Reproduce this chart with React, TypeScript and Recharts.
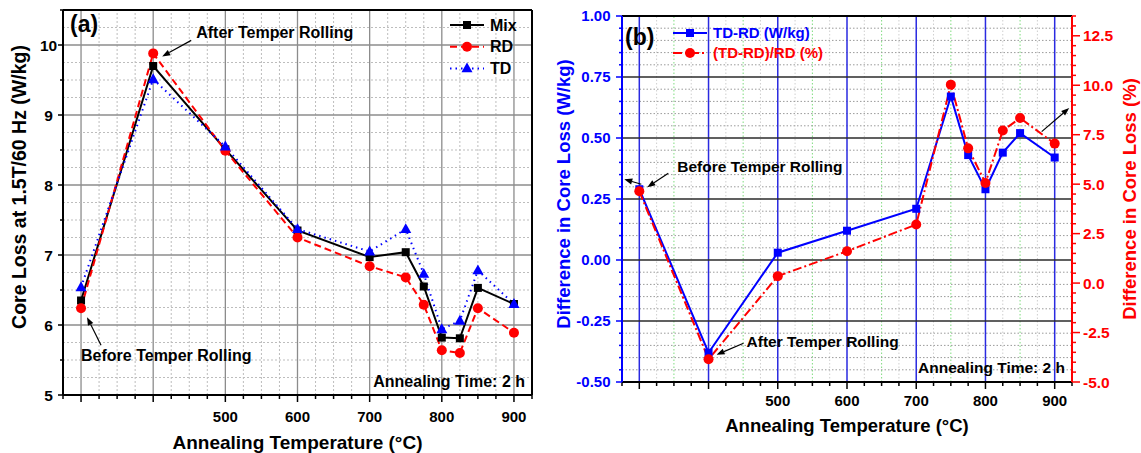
import React from "react";
import { LineChart, Line, XAxis, YAxis, ReferenceLine, ReferenceDot, Legend, Label } from "recharts";

const FONT = "'Liberation Sans', Arial, Helvetica, sans-serif";
const BLUE = "#0000ff";
const RED = "#ff0000";

// annealing temperature (°C); 300 = sheet before temper rolling, 400 = right after it
const temps = [300, 400, 500, 600, 700, 750, 775, 800, 825, 850, 900];

// (a) core loss at 1.5 T / 60 Hz (W/kg)
const mixLoss = [6.35, 9.7, 8.51, 7.35, 6.97, 7.04, 6.55, 5.82, 5.81, 6.53, 6.3];
const rdLoss = [6.24, 9.88, 8.49, 7.25, 6.84, 6.68, 6.29, 5.64, 5.6, 6.24, 5.89];
const tdLoss = [6.54, 9.51, 8.55, 7.37, 7.05, 7.37, 6.73, 5.94, 6.06, 6.78, 6.3];

// (b) TD - RD difference, absolute (W/kg) and relative (%)
const diffWkg = [0.29, -0.38, 0.03, 0.12, 0.21, 0.67, 0.43, 0.29, 0.44, 0.52, 0.42];
const diffPct = [4.64, -3.85, 0.35, 1.61, 2.96, 10.03, 6.81, 5.06, 7.71, 8.34, 7.05];

// axis ticks
const tempLabels = [500, 600, 700, 800, 900];
const tempMajor = [300, 400, 500, 600, 700, 800, 900];
const lossLabels = [5, 6, 7, 8, 9, 10];
const wkgLabels = [-0.5, -0.25, 0, 0.25, 0.5, 0.75, 1.0];
const pctLabels = [-5, -2.5, 0, 2.5, 5, 7.5, 10, 12.5];

const range = (from: number, to: number, step: number) => {
  const out: number[] = [];
  for (let v = from; v <= to + step / 1000; v += step) out.push(Math.round(v * 1000) / 1000);
  return out;
};
const near = (list: number[], v: number) => list.some((w) => Math.abs(w - v) < 1e-6);

const tempMinor = range(275, 925, 25);
const lossTicks = range(5, 10.5, 0.5);
const wkgTicks = range(-0.5, 1.0, 0.05);
const pctTicks = range(-5, 13.5, 0.5);

const rowsA = temps.map((t, i) => ({ t, mix: mixLoss[i], rd: rdLoss[i], td: tdLoss[i] }));
const rowsB = temps.map((t, i) => ({ t, dW: diffWkg[i], dP: diffPct[i] }));

type MarkerKind = "square" | "circle" | "triangle";

const lossSeries = [
  { key: "mix", name: "Mix", color: "#000000", dash: undefined, marker: "square" as MarkerKind, size: 8 },
  { key: "rd", name: "RD", color: RED, dash: "7 4", marker: "circle" as MarkerKind, size: 10 },
  { key: "td", name: "TD", color: BLUE, dash: "1.5 4", marker: "triangle" as MarkerKind, size: 11 },
];

const diffSeries = [
  { key: "dW", name: "TD-RD (W/kg)", axis: "left", color: BLUE, dash: undefined, marker: "square" as MarkerKind, size: 8 },
  { key: "dP", name: "(TD-RD)/RD (%)", axis: "right", color: RED, dash: "9 3 2 3", marker: "circle" as MarkerKind, size: 10 },
];

const bold = (size: number) => ({ fontFamily: FONT, fontWeight: 700, fontSize: size });

function Marker({ kind, cx, cy, color, size }: { kind: MarkerKind; cx: number; cy: number; color: string; size: number }) {
  if (kind === "square") return <rect x={cx - size / 2} y={cy - size / 2} width={size} height={size} fill={color} />;
  if (kind === "circle") return <circle cx={cx} cy={cy} r={size / 2} fill={color} />;
  const h = size * 0.9;
  return (
    <polygon
      points={`${cx},${cy - h * 0.6} ${cx + size / 2},${cy + h * 0.4} ${cx - size / 2},${cy + h * 0.4}`}
      fill={color}
    />
  );
}

// ---- tick renderers (tickSize 0, so x/y sit on the axis line) ----
function TempTick(props: any) {
  const { x, y, payload, labelDy } = props;
  const v = payload.value;
  const major = near(tempMajor, v);
  return (
    <g>
      <line x1={x} x2={x} y1={y} y2={y + (major ? 7 : 4)} stroke="#000" strokeWidth={1.5} />
      {near(tempLabels, v) && (
        <text x={x} y={y + labelDy} textAnchor="middle" fill="#000" style={bold(15)}>
          {v}
        </text>
      )}
    </g>
  );
}

function LossTick(props: any) {
  const { x, y, payload } = props;
  const v = payload.value;
  const major = near(lossLabels, v);
  return (
    <g>
      <line x1={x - (major ? 5 : 3)} x2={x} y1={y} y2={y} stroke="#000" strokeWidth={1.5} />
      {major && (
        <text x={x - 14.5} y={y} dy="0.36em" textAnchor="middle" fill="#000" style={bold(15.5)}>
          {v}
        </text>
      )}
    </g>
  );
}

function WkgTick(props: any) {
  const { x, y, payload } = props;
  const v = payload.value;
  const major = near(wkgLabels, v);
  return (
    <g>
      <line x1={x - (major ? 6 : 3)} x2={x} y1={y} y2={y} stroke={BLUE} strokeWidth={1.5} />
      {major && (
        <text x={x - 11.5} y={y} dy="0.36em" textAnchor="end" fill={BLUE} style={bold(15)}>
          {v.toFixed(2)}
        </text>
      )}
    </g>
  );
}

function PctTick(props: any) {
  const { x, y, payload } = props;
  const v = payload.value;
  const major = near(pctLabels, v);
  return (
    <g>
      <line x1={x} x2={x + (major ? 8 : 4)} y1={y} y2={y} stroke={RED} strokeWidth={1.5} />
      {major && (
        <text x={x + 11} y={y} dy="0.36em" textAnchor="start" fill={RED} style={bold(15.5)}>
          {v.toFixed(1)}
        </text>
      )}
    </g>
  );
}

// ---- annotations, placed relative to the point they are attached to ----
function Arrow({ x1, y1, x2, y2 }: { x1: number; y1: number; x2: number; y2: number }) {
  const a = Math.atan2(y2 - y1, x2 - x1);
  const c = Math.cos(a);
  const s = Math.sin(a);
  const bx = x2 - 8 * c;
  const by = y2 - 8 * s;
  return (
    <g>
      <line x1={x1} y1={y1} x2={bx} y2={by} stroke="#000" strokeWidth={1.2} />
      <polygon points={`${x2},${y2} ${bx + 3 * s},${by - 3 * c} ${bx - 3 * s},${by + 3 * c}`} fill="#000" />
    </g>
  );
}

type CalloutProps = {
  cx: number;
  cy: number;
  arrows?: [number, number, number, number][];
  text?: string;
  at?: [number, number];
  anchor?: "start" | "end";
  size?: number;
};

function Callout({ cx, cy, arrows = [], text, at = [0, 0], anchor = "start", size = 16 }: CalloutProps) {
  return (
    <g>
      {arrows.map(([fx, fy, tx, ty], i) => (
        <Arrow key={i} x1={cx + fx} y1={cy + fy} x2={cx + tx} y2={cy + ty} />
      ))}
      {text && (
        <text x={cx + at[0]} y={cy + at[1]} textAnchor={anchor} fill="#000" style={bold(size)}>
          {text}
        </text>
      )}
    </g>
  );
}

// ---- legends ----
function SeriesLegend({ items, rowGap, textSize, colored }: any) {
  return (
    <svg width={160} height={rowGap * items.length + 4} style={{ display: "block" }}>
      {items.map((s: any, i: number) => {
        const y = 11 + i * rowGap;
        return (
          <g key={s.key}>
            <line x1={3} x2={37} y1={y} y2={y} stroke={s.color} strokeWidth={2} strokeDasharray={s.dash} />
            <Marker kind={s.marker} cx={20} cy={y} color={s.color} size={s.size} />
            <text x={43} y={y} dy="0.36em" fill={colored ? s.color : "#000"} style={bold(textSize)}>
              {s.name}
            </text>
          </g>
        );
      })}
    </svg>
  );
}

const dotFor = (s: { key: string; marker: MarkerKind; color: string; size: number }) => (p: any) =>
  <Marker key={`${s.key}-${p.index}`} kind={s.marker} cx={p.cx} cy={p.cy} color={s.color} size={s.size} />;

function CoreLossChart() {
  return (
    <LineChart width={560} height={453} data={rowsA} margin={{ top: 10, right: 28, bottom: 0, left: 0 }}>
      {/* grid */}
      {tempMinor
        .filter((v) => !near(tempMajor, v) && v > 275 && v < 925)
        .map((v) => (
          <ReferenceLine key={`gx${v}`} x={v} stroke="#bdbdbd" strokeDasharray="2 2" zIndex={-100} />
        ))}
      {tempMajor.map((v) => (
        <ReferenceLine key={`GX${v}`} x={v} stroke="#8c8c8c" strokeWidth={1.3} zIndex={-100} />
      ))}
      {range(5.25, 10.25, 0.25)
        .filter((v) => !Number.isInteger(v))
        .map((v) => (
          <ReferenceLine key={`gy${v}`} y={v} stroke="#bdbdbd" strokeDasharray="2 2" zIndex={-100} />
        ))}
      {lossLabels
        .filter((v) => v > 5)
        .map((v) => (
          <ReferenceLine key={`GY${v}`} y={v} stroke="#8c8c8c" strokeWidth={1.3} zIndex={-100} />
        ))}
      <ReferenceLine y={10.5} stroke="#000" strokeWidth={2} />
      <ReferenceLine x={925} stroke="#000" strokeWidth={2} />

      <XAxis
        dataKey="t"
        type="number"
        domain={[275, 925]}
        allowDataOverflow
        ticks={tempMinor}
        interval={0}
        tickSize={0}
        tickMargin={0}
        height={58}
        axisLine={{ stroke: "#000", strokeWidth: 2 }}
        tickLine={false}
        tick={<TempTick labelDy={27} />}
      >
        <Label
          content={() => (
            <text x={297.5} y={448.5} textAnchor="middle" fill="#000" style={bold(19)}>
              Annealing Temperature (°C)
            </text>
          )}
        />
      </XAxis>
      <YAxis
        type="number"
        domain={[5, 10.5]}
        allowDataOverflow
        ticks={lossTicks}
        interval={0}
        tickSize={0}
        tickMargin={0}
        width={63}
        axisLine={{ stroke: "#000", strokeWidth: 2 }}
        tickLine={false}
        tick={<LossTick />}
      >
        <Label
          content={() => (
            <text transform="translate(26,187) rotate(-90)" textAnchor="middle" fill="#000" style={bold(19.5)}>
              Core Loss at 1.5T/60 Hz (W/kg)
            </text>
          )}
        />
      </YAxis>

      {lossSeries.map((s) => (
        <Line
          key={s.key}
          dataKey={s.key}
          name={s.name}
          type="linear"
          stroke={s.color}
          strokeWidth={2}
          strokeDasharray={s.dash}
          dot={dotFor(s)}
          activeDot={false}
          isAnimationActive={false}
        />
      ))}

      <Legend
        layout="vertical"
        align="center"
        verticalAlign="middle"
        wrapperStyle={{ left: 447, top: 14, width: 110 }}
        content={() => <SeriesLegend items={lossSeries} rowGap={21.7} textSize={16} />}
      />

      <ReferenceDot
        x={275}
        y={10.5}
        r={0}
        zIndex={2000}
        shape={(p: any) => <Callout cx={p.cx} cy={p.cy} text="(a)" at={[7, 22]} size={23} />}
      />
      <ReferenceDot
        x={925}
        y={5}
        r={0}
        zIndex={2000}
        shape={(p: any) => <Callout cx={p.cx} cy={p.cy} text="Annealing Time: 2 h" at={[-7, -8]} anchor="end" />}
      />
      <ReferenceDot
        x={temps[1]}
        y={rdLoss[1]}
        r={0}
        zIndex={2000}
        shape={(p: any) => (
          <Callout cx={p.cx} cy={p.cy} arrows={[[38, -13, 9, 3]]} text="After Temper Rolling" at={[43, -15]} />
        )}
      />
      <ReferenceDot
        x={temps[0]}
        y={rdLoss[0]}
        r={0}
        zIndex={2000}
        shape={(p: any) => (
          <Callout cx={p.cx} cy={p.cy} arrows={[[20, 37, 6, 9]]} text="Before Temper Rolling" at={[0, 53]} />
        )}
      />
    </LineChart>
  );
}

function DifferenceChart() {
  return (
    <LineChart width={601} height={453} data={rowsB} margin={{ top: 16, right: 0, bottom: 0, left: 0 }}>
      {/* grid */}
      {tempMinor
        .filter((v) => v > 275 && v < 925 && v % 50 !== 0)
        .map((v) => (
          <ReferenceLine key={`g25${v}`} yAxisId="left" x={v} stroke="#cfcfcf" strokeDasharray="1.5 2" zIndex={-100} />
        ))}
      {tempMinor
        .filter((v) => v % 50 === 0 && v % 100 !== 0)
        .map((v) => (
          <ReferenceLine key={`g50${v}`} yAxisId="left" x={v} stroke="#7fdc7f" strokeDasharray="1.5 2" zIndex={-100} />
        ))}
      {range(-0.45, 0.95, 0.05)
        .filter((v) => !near(wkgLabels, v))
        .map((v) => (
          <ReferenceLine key={`gy${v}`} yAxisId="left" y={v} stroke="#9a9a9a" strokeDasharray="1.5 2" zIndex={-100} />
        ))}
      {tempMajor.map((v) => (
        <ReferenceLine key={`GX${v}`} yAxisId="left" x={v} stroke="#2a2ae0" strokeWidth={1.5} zIndex={-100} />
      ))}
      {wkgLabels
        .filter((v) => v > -0.5 && v < 1)
        .map((v) => (
          <ReferenceLine key={`GY${v}`} yAxisId="left" y={v} stroke="#2b2b2b" strokeWidth={1.5} zIndex={-100} />
        ))}
      <ReferenceLine yAxisId="left" y={1.0} stroke="#000" strokeWidth={2} />

      <XAxis
        dataKey="t"
        type="number"
        domain={[275, 925]}
        allowDataOverflow
        ticks={tempMinor}
        interval={0}
        tickSize={0}
        tickMargin={0}
        height={71}
        axisLine={{ stroke: "#000", strokeWidth: 2 }}
        tickLine={false}
        tick={<TempTick labelDy={23.5} />}
      >
        <Label
          content={() => (
            <text x={307} y={432} textAnchor="middle" fill="#000" style={bold(18.5)}>
              Annealing Temperature (°C)
            </text>
          )}
        />
      </XAxis>
      <YAxis
        yAxisId="left"
        type="number"
        domain={[-0.5, 1.0]}
        allowDataOverflow
        ticks={wkgTicks}
        interval={0}
        tickSize={0}
        tickMargin={0}
        width={82}
        axisLine={{ stroke: BLUE, strokeWidth: 2 }}
        tickLine={false}
        tick={<WkgTick />}
      >
        <Label
          content={() => (
            <text transform="translate(30,194) rotate(-90)" textAnchor="middle" fill={BLUE} style={bold(18.5)}>
              Difference in Core Loss (W/kg)
            </text>
          )}
        />
      </YAxis>
      <YAxis
        yAxisId="right"
        orientation="right"
        type="number"
        domain={[-5, 13.5]}
        allowDataOverflow
        ticks={pctTicks}
        interval={0}
        tickSize={0}
        tickMargin={0}
        width={69}
        axisLine={{ stroke: RED, strokeWidth: 2 }}
        tickLine={false}
        tick={<PctTick />}
      >
        <Label
          content={() => (
            <text transform="translate(596,199) rotate(-90)" textAnchor="middle" fill={RED} style={bold(18.5)}>
              Difference in Core Loss (%)
            </text>
          )}
        />
      </YAxis>

      {diffSeries.map((s) => (
        <Line
          key={s.key}
          yAxisId={s.axis}
          dataKey={s.key}
          name={s.name}
          type="linear"
          stroke={s.color}
          strokeWidth={2}
          strokeDasharray={s.dash}
          dot={dotFor(s)}
          activeDot={false}
          isAnimationActive={false}
        />
      ))}

      <Legend
        layout="vertical"
        align="center"
        verticalAlign="middle"
        wrapperStyle={{ left: 130, top: 22, width: 170 }}
        content={() => <SeriesLegend items={diffSeries} rowGap={20} textSize={15} colored />}
      />

      <ReferenceDot
        yAxisId="left"
        x={275}
        y={1.0}
        r={0}
        zIndex={2000}
        shape={(p: any) => <Callout cx={p.cx} cy={p.cy} text="(b)" at={[3, 29]} size={23} />}
      />
      <ReferenceDot
        yAxisId="left"
        x={925}
        y={-0.5}
        r={0}
        zIndex={2000}
        shape={(p: any) => (
          <Callout cx={p.cx} cy={p.cy} text="Annealing Time: 2 h" at={[-7, -9]} anchor="end" size={15.5} />
        )}
      />
      <ReferenceDot
        yAxisId="left"
        x={temps[0]}
        y={diffWkg[0]}
        r={0}
        zIndex={2000}
        shape={(p: any) => (
          <Callout
            cx={p.cx}
            cy={p.cy}
            arrows={[
              [29, -16, 8, -2],
              [2, -5, -15, -10],
            ]}
            text="Before Temper Rolling"
            at={[38, -17]}
            size={15.5}
          />
        )}
      />
      <ReferenceDot
        yAxisId="left"
        x={temps[1]}
        y={diffWkg[1]}
        r={0}
        zIndex={2000}
        shape={(p: any) => (
          <Callout cx={p.cx} cy={p.cy} arrows={[[35, -9.5, 8, 2]]} text="After Temper Rolling" at={[38, -6]} size={15.5} />
        )}
      />
      <ReferenceDot
        yAxisId="right"
        x={temps[10]}
        y={diffPct[10]}
        r={0}
        zIndex={2000}
        shape={(p: any) => <Callout cx={p.cx} cy={p.cy} arrows={[[-13, -12, 14.5, -35.5]]} />}
      />
    </LineChart>
  );
}

export default function App() {
  return (
    <div style={{ position: "absolute", left: 0, top: 0, width: 1141, height: 453, background: "#fff", fontFamily: FONT }}>
      <div style={{ position: "absolute", left: 0, top: 0 }}>
        <CoreLossChart />
      </div>
      <div style={{ position: "absolute", left: 540, top: 0 }}>
        <DifferenceChart />
      </div>
    </div>
  );
}
